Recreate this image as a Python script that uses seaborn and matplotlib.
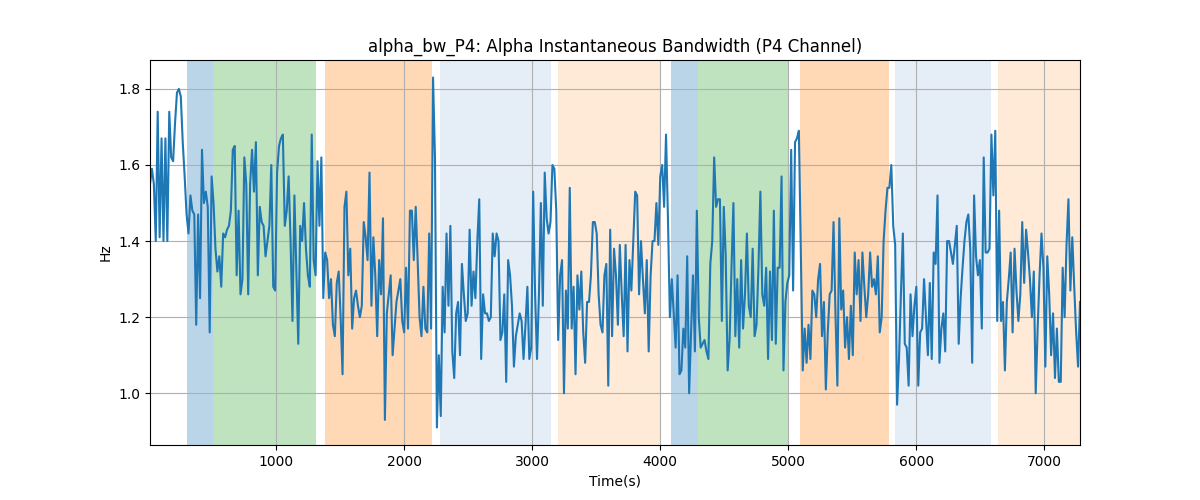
import numpy as np
import pandas as pd
import matplotlib
matplotlib.use("Agg")
import matplotlib.pyplot as plt
import seaborn as sns

# bandwidth values (Hz) left to right
bw_part1 = [1.55, 1.59, 1.55, 1.40, 1.74, 1.41, 1.67, 1.40, 1.67, 1.40, 1.74, 1.62, 1.61, 1.71,
            1.79, 1.80, 1.78, 1.66, 1.57, 1.47, 1.42, 1.52, 1.48, 1.47, 1.18, 1.47, 1.25, 1.64,
            1.50, 1.53, 1.49, 1.16, 1.57, 1.50, 1.38, 1.32, 1.36, 1.28, 1.42, 1.41, 1.43, 1.44,
            1.48, 1.64, 1.65, 1.31, 1.48, 1.26, 1.30, 1.62, 1.55, 1.26, 1.55, 1.64, 1.53, 1.66,
            1.31, 1.49, 1.45, 1.44, 1.36, 1.40, 1.44, 1.60, 1.28, 1.27, 1.58, 1.65, 1.67, 1.68,
            1.44, 1.48, 1.57, 1.40, 1.19, 1.52, 1.32, 1.13, 1.44, 1.40, 1.50, 1.38, 1.31, 1.28,
            1.68, 1.35, 1.31, 1.61, 1.44, 1.62, 1.25, 1.37, 1.35, 1.25, 1.30, 1.18, 1.15, 1.29,
            1.32, 1.20, 1.05, 1.49, 1.53, 1.31, 1.38, 1.17, 1.25, 1.27, 1.23, 1.20]
bw_part2 = [1.23, 1.45, 1.41, 1.35, 1.58, 1.23, 1.41, 1.31, 1.15, 1.35, 1.26, 1.46, 0.93, 1.21,
            1.26, 1.31, 1.10, 1.17, 1.24, 1.27, 1.30, 1.19, 1.16, 1.33, 1.17, 1.48, 1.48, 1.35,
            1.49, 1.35, 1.20, 1.15, 1.28, 1.17]
bw_part3 = [1.16, 1.42, 1.17, 1.83, 1.62, 0.91, 1.10, 0.94, 1.28, 1.16, 1.42, 1.23, 1.44, 1.11,
            1.04, 1.21, 1.24, 1.10, 1.34, 1.26, 1.19, 1.21, 1.43, 1.23, 1.32, 1.25, 1.40, 1.51,
            1.09, 1.26, 1.21, 1.21, 1.19, 1.20, 1.42, 1.36, 1.42, 1.40, 1.14, 1.16, 1.26, 1.03,
            1.35, 1.31, 1.23, 1.07]
bw_part4 = [1.15, 1.18, 1.21, 1.19, 1.09, 1.18, 1.28, 1.09, 1.12, 1.53, 1.26, 1.09, 1.26, 1.50,
            1.23, 1.58, 1.46, 1.42, 1.45, 1.60, 1.59, 1.48, 1.14, 1.31, 1.35, 1.00, 1.27, 1.17,
            1.54, 1.17, 1.28, 1.05, 1.31, 1.22, 1.32, 1.16, 1.08, 1.24, 1.24, 1.31, 1.45, 1.45,
            1.42, 1.26, 1.18, 1.16, 1.31]
bw_part5 = [1.34, 1.02, 1.43, 1.15, 1.38, 1.31, 1.18, 1.39, 1.26, 1.15, 1.39, 1.11, 1.35, 1.27,
            1.40, 1.53, 1.52, 1.26, 1.40, 1.30, 1.21, 1.35, 1.11, 1.31, 1.40, 1.40, 1.50, 1.39,
            1.57, 1.60, 1.49, 1.68, 1.46, 1.20, 1.30, 1.21, 1.12, 1.31, 1.05, 1.06, 1.17, 1.12,
            1.36, 1.00, 1.16, 1.31]
bw_part6 = [1.11, 1.48, 1.20, 1.12, 1.13, 1.14, 1.11, 1.09, 1.34, 1.40, 1.62, 1.49, 1.51, 1.51,
            1.19, 1.49, 1.36, 1.06, 1.14, 1.33, 1.50, 1.15, 1.30, 1.12, 1.35, 1.17, 1.26, 1.42,
            1.23, 1.20, 1.38, 1.15, 1.18, 1.33, 1.53, 1.26, 1.23, 1.33, 1.09, 1.32, 1.14, 1.48,
            1.13, 1.33, 1.33, 1.57, 1.06]
bw_part7 = [1.24, 1.29, 1.31, 1.64, 1.27, 1.66, 1.67, 1.69, 1.38, 1.06, 1.17, 1.08, 1.18, 1.09,
            1.27, 1.26, 1.20, 1.30, 1.34, 1.15, 1.24, 1.01, 1.16, 1.26, 1.27, 1.45, 1.21, 1.02,
            1.46, 1.22, 1.27, 1.12, 1.20, 1.09, 1.23, 1.10, 1.37, 1.26, 1.35, 1.19, 1.37, 1.28,
            1.20, 1.26, 1.37, 1.28, 1.30]
bw_part8 = [1.26, 1.36, 1.16, 1.20, 1.40, 1.48, 1.54, 1.54, 1.60, 1.44, 1.39, 0.97, 1.09, 1.26,
            1.42, 1.13, 1.12, 1.02, 1.26, 1.15, 1.23, 1.28, 1.02, 1.16, 1.17, 1.30, 1.20, 1.10,
            1.29, 1.09, 1.37, 1.34, 1.52, 1.08, 1.17, 1.21, 1.11, 1.40, 1.40, 1.37, 1.34, 1.39,
            1.44, 1.13, 1.25, 1.33, 1.40]
bw_part9 = [1.45, 1.47, 1.38, 1.08, 1.52, 1.36, 1.31, 1.35, 1.17, 1.62, 1.37, 1.37, 1.38, 1.68,
            1.52, 1.69, 1.19, 1.48, 1.19, 1.24, 1.06, 1.24, 1.30, 1.37, 1.16, 1.38, 1.27, 1.19,
            1.26, 1.45, 1.29, 1.43, 1.37, 1.30, 1.20, 1.32, 1.00, 1.17, 1.31, 1.42, 1.33, 1.07,
            1.36, 1.26, 1.10, 1.21, 1.04]
bw_part10 = [1.17, 1.03, 1.03, 1.33, 1.20, 1.39, 1.51, 1.27, 1.41, 1.28, 1.16, 1.07, 1.24]

bw = (bw_part1 + bw_part2 + bw_part3 + bw_part4 + bw_part5 + bw_part6 + bw_part7
      + bw_part8 + bw_part9 + bw_part10)

# time axis: first and last sample (s)
t_start = 16
t_end = 7280
times = np.linspace(t_start, t_end, len(bw))

# shaded segments: (start, end, colour, alpha)
span_starts = [305, 508, 1383, 2281, 3203, 4086, 4297, 5094, 5836, 6641]
span_ends = [508, 1312, 2219, 3148, 4000, 4297, 5008, 5789, 6586, 7281]
span_colors = ["tab:blue", "tab:green", "tab:orange", "#5287ca", "tab:orange",
               "tab:blue", "tab:green", "tab:orange", "#5287ca", "tab:orange"]
span_alphas = [0.3, 0.3, 0.3, 0.15, 0.16, 0.3, 0.3, 0.3, 0.15, 0.16]

df = pd.DataFrame({"time": times, "bw": bw})

fig, ax = plt.subplots(figsize=(12, 5), dpi=100)
for s, e, c, a in zip(span_starts, span_ends, span_colors, span_alphas):
    ax.axvspan(s, e, color=c, alpha=a, linewidth=0)

sns.lineplot(data=df, x="time", y="bw", ax=ax, color="tab:blue", linewidth=1.5)

ax.set_xlim(times.min(), times.max())
ax.grid(True)
ax.set_title("alpha_bw_P4: Alpha Instantaneous Bandwidth (P4 Channel)")
ax.set_xlabel("Time(s)")
ax.set_ylabel("Hz")

fig.savefig("out.png", dpi=100)
